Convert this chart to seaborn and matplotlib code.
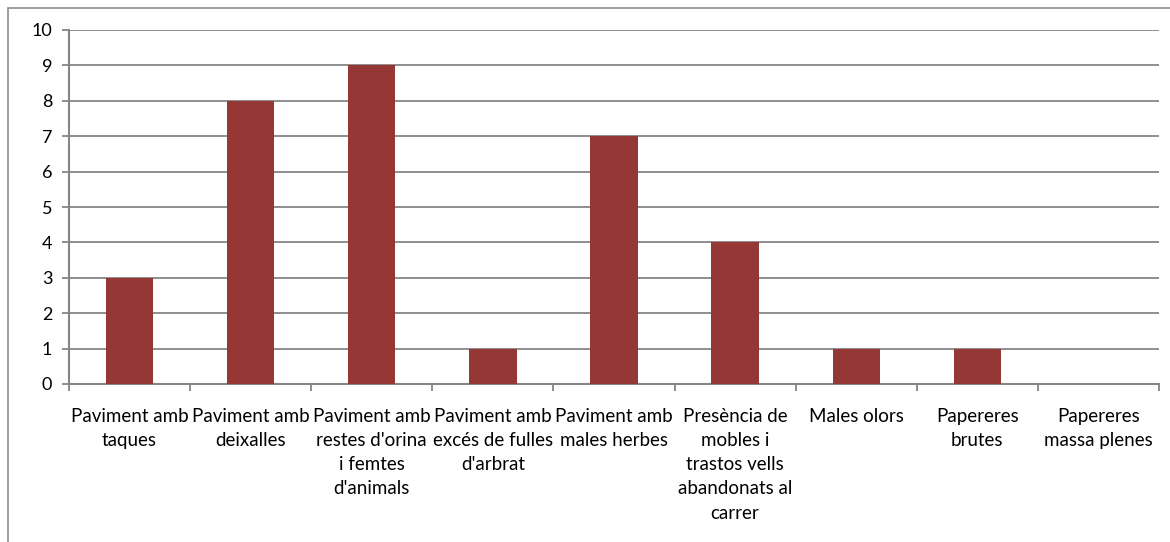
import matplotlib
matplotlib.use("Agg")
import matplotlib.pyplot as plt
import seaborn as sns
import pandas as pd
from matplotlib.patches import Rectangle

categories = [
    "Paviment amb\ntaques",
    "Paviment amb\ndeixalles",
    "Paviment amb\nrestes d'orina\ni femtes\nd'animals",
    "Paviment amb\nexcés de fulles\nd'arbrat",
    "Paviment amb\nmales herbes",
    "Presència de\nmobles i\ntrastos vells\nabandonats al\ncarrer",
    "Males olors",
    "Papereres\nbrutes",
    "Papereres\nmassa plenes",
]
values = [3, 8, 9, 1, 7, 4, 1, 1, 0]
yticks = list(range(0, 11))

sns.set_theme(style="white")
plt.rcParams['font.family'] = ['Lato', 'DejaVu Sans']

df = pd.DataFrame({"cat": categories, "val": values})

fig = plt.figure(figsize=(11.7, 5.42), dpi=100)
ax = fig.add_axes([69/1170, 1-384/542, (1159-69)/1170, (384-30)/542])

sns.barplot(data=df, x="cat", y="val", color="#953735", width=0.39,
            saturation=1, ax=ax, zorder=3, linewidth=0)

grey = "#868686"
ax.set_ylim(0, 10)
ax.set_xlim(-0.5, len(categories) - 0.5)
ax.set_yticks(yticks)
ax.yaxis.grid(True, color=grey, linewidth=1.3, zorder=0)
ax.set_axisbelow(True)
ax.set_xlabel("")
ax.set_ylabel("")
ax.set_xticks(range(len(categories)))
ax.set_xticklabels(categories, fontsize=13.5, linespacing=1.52, color="black")
ax.tick_params(axis="x", which="major", length=0, pad=17, bottom=True)
# category boundary ticks
ax.set_xticks([i - 0.5 for i in range(len(categories) + 1)], minor=True)
ax.tick_params(axis="x", which="minor", length=5, color=grey, width=1.3,
               direction="out", bottom=True)
ax.tick_params(axis="y", length=5, color=grey, width=1.3, direction="out",
               labelsize=13, pad=7, labelcolor="black", left=True)

for s in ["top", "right"]:
    ax.spines[s].set_visible(False)
for s in ["left", "bottom"]:
    ax.spines[s].set_color(grey)
    ax.spines[s].set_linewidth(1.5)

# outer chart border
fig.patches.append(Rectangle((8/1170, -0.1), 1.2, 1 - 8/542 + 0.1,
                             transform=fig.transFigure, fill=False,
                             edgecolor="#8c8c8c", linewidth=1.2))

fig.savefig("out.png", dpi=100)
